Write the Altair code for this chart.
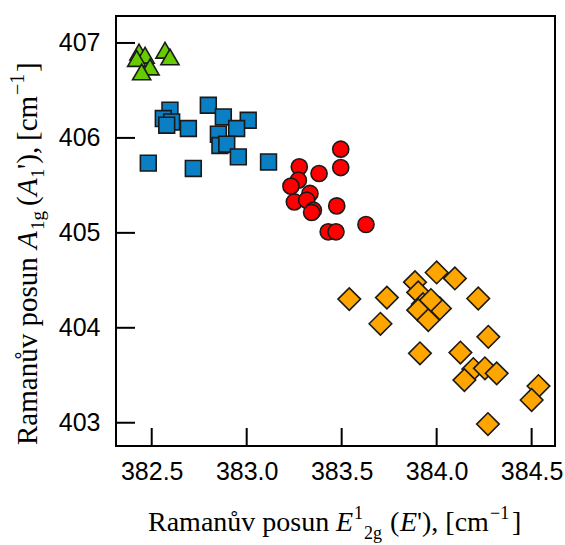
import altair as alt
import pandas as pd

# E'(E^1_2g) and A1'(A_1g) Raman shifts, cm^-1, for four sample groups
tri_x = [382.433, 382.465, 382.421, 382.491, 382.447, 382.570, 382.596]
tri_y = [406.905, 406.870, 406.836, 406.747, 406.695, 406.923, 406.853]

sq_x = [382.596, 382.561, 382.605, 382.579, 382.693, 382.798, 382.877, 383.008,
        382.851, 382.947, 382.859, 382.895, 382.956, 382.482, 382.719, 383.115]
sq_y = [406.292, 406.204, 406.168, 406.134, 406.099, 406.344, 406.221, 406.186,
        406.039, 406.099, 405.920, 405.934, 405.800, 405.734, 405.678, 405.747]

ci_x = [383.495, 383.495, 383.277, 383.381, 383.272, 383.233, 383.333, 383.251,
        383.316, 383.351, 383.342, 383.474, 383.429, 383.470, 383.628]
ci_y = [405.881, 405.688, 405.695, 405.625, 405.555, 405.492, 405.415, 405.326,
        405.344, 405.239, 405.215, 405.284, 405.011, 405.011, 405.088]

di_x = [383.540, 383.738, 383.704, 383.912, 384.000, 383.886, 383.903, 383.928,
        383.903, 383.956, 384.017, 383.970, 384.096, 384.219, 384.272, 384.125,
        384.193, 384.146, 384.254, 384.316, 384.536, 384.500, 384.270]
di_y = [404.302, 404.318, 404.042, 403.731, 404.583, 404.481, 404.373, 404.249,
        404.186, 404.081, 404.204, 404.292, 404.520, 404.309, 403.905, 403.739,
        403.565, 403.449, 403.573, 403.520, 403.386, 403.239, 402.986]

x_ticks = [382.5, 383.0, 383.5, 384.0, 384.5]
y_ticks = [403, 404, 405, 406, 407]

X_DOMAIN = [382.312, 384.623]
Y_DOMAIN = [402.755, 407.284]
W, H = 439, 430

xs = alt.Scale(domain=X_DOMAIN, nice=False, zero=False)
ys = alt.Scale(domain=Y_DOMAIN, nice=False, zero=False)

x_axis = alt.Axis(values=x_ticks, format=".1f", ticks=False, domain=False, grid=False,
                  labelPadding=13, labelFontSize=25, labelFont="Liberation Sans",
                  labelColor="black", title=None)
y_axis = alt.Axis(values=y_ticks, format="d", ticks=False, domain=False, grid=False,
                  labelPadding=16, labelFontSize=25, labelFont="Liberation Sans",
                  labelColor="black", title=None)


def group(xv, yv, shape, color, size):
    df = pd.DataFrame({"x": xv, "y": yv})
    return alt.Chart(df).mark_point(
        shape=shape, filled=True, fill=color, fillOpacity=1,
        stroke="#1a1a1a", strokeWidth=1.6, size=size, opacity=1
    ).encode(
        x=alt.X("x:Q", scale=xs, axis=x_axis),
        y=alt.Y("y:Q", scale=ys, axis=y_axis),
    )


# inward tick marks on the bottom and left edges
xt = alt.Chart(pd.DataFrame({"v": x_ticks})).mark_rule(color="black", strokeWidth=2).encode(
    x=alt.X("v:Q", scale=xs, axis=x_axis), y=alt.value(H), y2=alt.value(H - 18))
yt = alt.Chart(pd.DataFrame({"v": y_ticks})).mark_rule(color="black", strokeWidth=2).encode(
    y=alt.Y("v:Q", scale=ys, axis=y_axis), x=alt.value(0), x2=alt.value(19))


def piece(text, px, py, size, italic=False, angle=0):
    # px, py are page pixels; the view origin sits at (116, 16)
    return alt.Chart(alt.Data(values=[{}])).mark_text(
        text=text, font="Liberation Serif", fontSize=size,
        fontStyle="italic" if italic else "normal", color="black",
        align="left", baseline="alphabetic", angle=angle
    ).encode(x=alt.value(px - 116), y=alt.value(py - 16))


# x-axis title: Ramanův posun E^1_2g (E'), [cm^-1]
xb = 531
x_title = [
    piece("Ramanův posun", 148, xb, 28),
    piece("E", 336, xb, 28, True),
    piece("1", 354, xb - 12, 18),
    piece("2g", 364, xb + 8, 18),
    piece("(", 390, xb, 28),
    piece("E", 400, xb, 28, True),
    piece("'), [cm", 417, xb, 28),
    piece("\u22121", 490, xb - 12, 18),
    piece("]", 512, xb, 28),
]

# y-axis title: Ramanův posun A_1g (A_1'), [cm^-1], reading upward
yb = 37
y_title = [
    piece("Ramanův posun", yb, 445, 29, angle=270),
    piece("A", yb, 249, 29, True, angle=270),
    piece("1g", yb + 7, 230, 19, angle=270),
    piece("(", yb, 206, 29, angle=270),
    piece("A", yb, 196, 29, True, angle=270),
    piece("1", yb + 7, 178, 19, angle=270),
    piece("'),", yb, 169, 29, angle=270),
    piece("[cm", yb, 141, 29, angle=270),
    piece("\u22121", yb - 13, 95, 20, angle=270),
    piece("]", yb, 72, 29, angle=270),
]

layers = [
    group(tri_x, tri_y, "triangle-up", "#66cc00", 330),
    group(sq_x, sq_y, "square", "#0a7fc4", 250),
    group(ci_x, ci_y, "circle", "#ff0000", 260),
    group(di_x, di_y, "diamond", "#ffa500", 510),
    xt, yt,
] + x_title + y_title

chart = alt.layer(*layers).properties(
    width=W, height=H,
    autosize=alt.AutoSizeParams(type="none"),
    padding={"left": 116, "top": 16, "right": 10, "bottom": 99},
).configure_view(stroke="black", strokeWidth=2)

chart.save("out.html", embed_options={"renderer": "svg", "actions": False})
